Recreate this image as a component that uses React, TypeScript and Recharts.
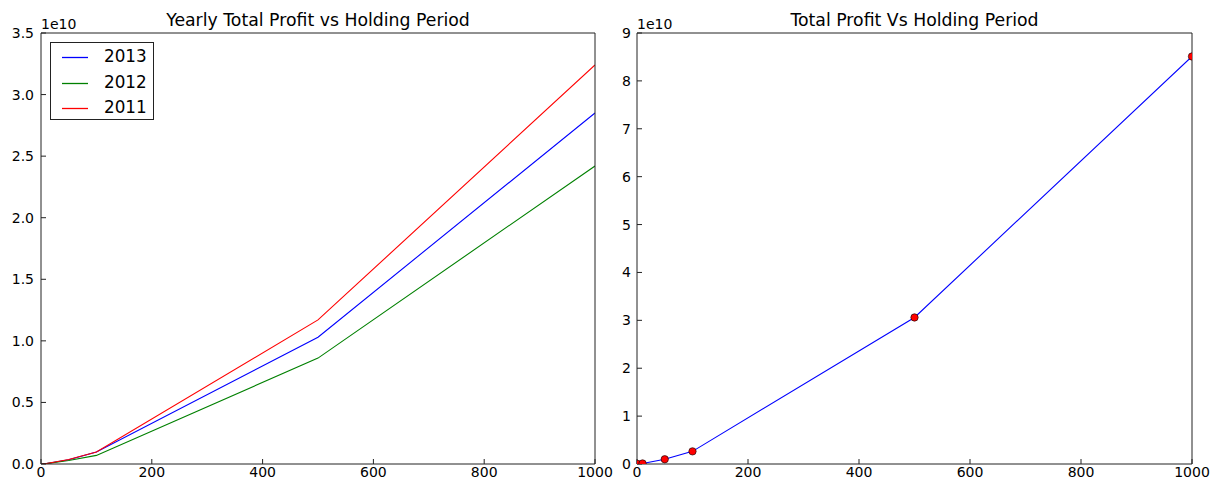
import React from 'react';
import { LineChart, Line, XAxis, YAxis } from 'recharts';

// holding periods (days) and yearly total profit per period
const periods = [1, 10, 50, 100, 500, 1000];
const profit2013 = [0.05e8, 0.4e8, 3.5e8, 9.7e8, 1.03e10, 2.85e10];
const profit2012 = [0.04e8, 0.3e8, 2.8e8, 7.0e8, 0.86e10, 2.42e10];
const profit2011 = [0.05e8, 0.4e8, 3.6e8, 9.7e8, 1.17e10, 3.24e10];

const xTicks = [0, 200, 400, 600, 800, 1000];
const yTicksLeft = [0, 0.5e10, 1e10, 1.5e10, 2e10, 2.5e10, 3e10, 3.5e10];
const yTicksRight = [0, 1e10, 2e10, 3e10, 4e10, 5e10, 6e10, 7e10, 8e10, 9e10];

const seriesInfo = [
  { key: 'y2013', name: '2013', color: '#0000ff' },
  { key: 'y2012', name: '2012', color: '#008000' },
  { key: 'y2011', name: '2011', color: '#ff0000' },
];

const yearlyData = periods.map((p, i) => ({
  period: p,
  y2013: profit2013[i],
  y2012: profit2012[i],
  y2011: profit2011[i],
}));

const totalData = periods.map((p, i) => ({
  period: p,
  total: profit2013[i] + profit2012[i] + profit2011[i],
}));

const FONT = '"DejaVu Sans", sans-serif';
const FRAME = '#222';
const tickStyle = { fill: '#000', fontSize: 14, fontFamily: FONT };

function LegendBox() {
  return (
    <div
      style={{
        position: 'absolute',
        left: 50,
        top: 42,
        border: `1px solid ${FRAME}`,
        background: '#fff',
        width: 104,
        height: 78,
        boxSizing: 'border-box',
        fontFamily: FONT,
        fontSize: 16.8,
      }}
    >
      {seriesInfo.map((s, i) => (
        <div key={s.key} style={{ position: 'absolute', left: 0, top: 2 + i * 25.5, height: 25, width: '100%' }}>
          <svg width={40} height={25} style={{ position: 'absolute', left: 0, top: 0 }}>
            <line x1={11} x2={37} y1={12.5} y2={12.5} stroke={s.color} strokeWidth={1.3} />
          </svg>
          <span style={{ position: 'absolute', left: 53, top: 3, lineHeight: 1, color: '#000' }}>{s.name}</span>
        </div>
      ))}
    </div>
  );
}

// matplotlib-style frame: inward ticks on all four sides
function frameAxes(yTicks: number[], yMax: number, fmt: (v: number) => string, leftWidth: number, yMargin: number) {
  return [
    <XAxis
      key="xb"
      dataKey="period"
      type="number"
      domain={[0, 1000]}
      ticks={xTicks}
      allowDataOverflow
      height={18}
      tickSize={-5}
      tickMargin={8}
      stroke={FRAME}
      tick={tickStyle}
    />,
    <XAxis
      key="xt"
      xAxisId="top"
      orientation="top"
      dataKey="period"
      type="number"
      domain={[0, 1000]}
      ticks={xTicks}
      height={1}
      tickSize={-5}
      tick={false}
      stroke={FRAME}
    />,
    <YAxis
      key="yl"
      type="number"
      domain={[0, yMax]}
      ticks={yTicks}
      allowDataOverflow
      width={leftWidth}
      tickSize={-5}
      tickMargin={yMargin}
      stroke={FRAME}
      tick={tickStyle}
      tickFormatter={fmt}
    />,
    <YAxis
      key="yr"
      yAxisId="right"
      orientation="right"
      type="number"
      domain={[0, yMax]}
      ticks={yTicks}
      width={1}
      tickSize={-5}
      tick={false}
      stroke={FRAME}
    />,
  ];
}

const textStyle: React.CSSProperties = {
  position: 'absolute',
  fontFamily: FONT,
  color: '#000',
  whiteSpace: 'nowrap',
  lineHeight: 1,
};

export default function App() {
  return (
    <div style={{ position: 'absolute', left: 0, top: 0, width: 1217, height: 482, background: '#fff' }}>
      <div style={{ ...textStyle, left: 41, width: 554, top: 12, fontSize: 17.3, textAlign: 'center' }}>
        Yearly Total Profit vs Holding Period
      </div>
      <div style={{ ...textStyle, left: 41, top: 16.5, fontSize: 14 }}>1e10</div>
      <div style={{ ...textStyle, left: 637, width: 555, top: 12, fontSize: 17.3, textAlign: 'center' }}>
        Total Profit Vs Holding Period
      </div>
      <div style={{ ...textStyle, left: 637, top: 16.5, fontSize: 14 }}>1e10</div>

      <div style={{ position: 'absolute', left: 0, top: 0 }}>
        <LineChart
          width={617}
          height={482}
          data={yearlyData}
          margin={{ top: 32, right: 21, bottom: 0, left: 0 }}
          style={{ overflow: 'visible' }}
        >
          {frameAxes(yTicksLeft, 3.5e10, (v) => (v / 1e10).toFixed(1), 41, 12)}
          {seriesInfo.map((s) => (
            <Line
              key={s.key}
              type="linear"
              dataKey={s.key}
              name={s.name}
              stroke={s.color}
              strokeWidth={1.1}
              dot={false}
              isAnimationActive={false}
            />
          ))}
        </LineChart>
      </div>
      <LegendBox />

      <div style={{ position: 'absolute', left: 617, top: 0 }}>
        <LineChart
          width={600}
          height={482}
          data={totalData}
          margin={{ top: 32, right: 24, bottom: 0, left: 0 }}
          style={{ overflow: 'visible' }}
        >
          {frameAxes(yTicksRight, 9e10, (v) => String(Math.round(v / 1e10)), 20, 11)}
          <Line
            type="linear"
            dataKey="total"
            stroke="#0000ff"
            strokeWidth={1.1}
            dot={{ r: 3.7, fill: '#ff0000', stroke: '#000', strokeWidth: 0.6 }}
            isAnimationActive={false}
          />
        </LineChart>
      </div>
    </div>
  );
}
